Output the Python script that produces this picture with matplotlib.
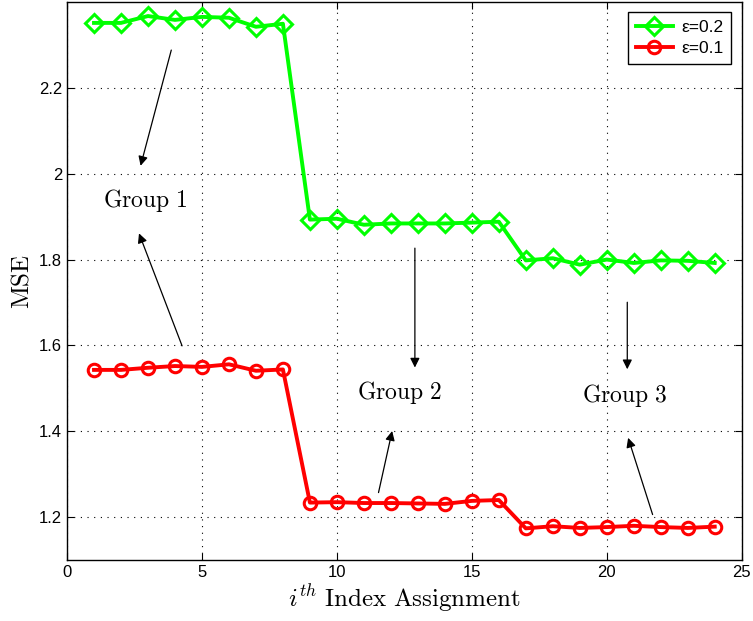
import matplotlib
matplotlib.use("Agg")
import matplotlib.pyplot as plt

plt.rcParams['mathtext.fontset'] = 'cm'
plt.rcParams['font.family'] = ['Liberation Sans', 'DejaVu Sans']

# data
idx = list(range(1, 25))
mse_02 = [2.351, 2.351, 2.367, 2.358, 2.365, 2.363, 2.342, 2.349,
          1.893, 1.895, 1.881, 1.884, 1.884, 1.884, 1.886, 1.888,
          1.798, 1.803, 1.788, 1.800, 1.792, 1.798, 1.797, 1.792]
mse_01 = [1.543, 1.543, 1.548, 1.552, 1.550, 1.556, 1.541, 1.544,
          1.234, 1.235, 1.233, 1.233, 1.232, 1.231, 1.238, 1.240,
          1.174, 1.179, 1.175, 1.177, 1.180, 1.177, 1.175, 1.178]
x_ticks = [0, 5, 10, 15, 20, 25]
y_ticks = [1.2, 1.4, 1.6, 1.8, 2.0, 2.2]
y_tick_labels = ['1.2', '1.4', '1.6', '1.8', '2', '2.2']

fig = plt.figure(figsize=(7.53, 6.21), dpi=100)
ax = fig.add_axes([0.089, 0.098, 0.896, 0.899])

ax.plot(idx, mse_02, color=(0, 1, 0), lw=2.8, marker='D', ms=9,
        mfc='none', mec=(0, 1, 0), mew=2.2, label='ε=0.2')
ax.plot(idx, mse_01, color=(1, 0, 0), lw=2.8, marker='o', ms=9,
        mfc='none', mec=(1, 0, 0), mew=2.2, label='ε=0.1')

ax.set_xlim(0, 25)
ax.set_ylim(1.1, 2.4)
ax.set_xticks(x_ticks)
ax.set_yticks(y_ticks)
ax.set_yticklabels(y_tick_labels)
ax.tick_params(direction='in', top=True, right=True, labelsize=12, length=5)
ax.grid(True, linestyle=(0, (1, 5)), color='black', lw=0.8)
for s in ax.spines.values():
    s.set_linewidth(1.0)

ax.set_xlabel(r'$i^{th}\ \mathrm{Index\ Assignment}$', fontsize=18, labelpad=2)
ax.set_ylabel(r'$\mathrm{MSE}$', fontsize=18, labelpad=4)

# group annotations
arr = dict(arrowstyle='-|>', color='black', lw=0.9, mutation_scale=14)
ax.text(2.9, 1.937, r'$\mathrm{Group\ 1}$', fontsize=17, ha='center', va='center')
ax.annotate('', xy=(2.70, 2.012), xytext=(3.89, 2.294), arrowprops=arr)
ax.annotate('', xy=(2.63, 1.867), xytext=(4.30, 1.593), arrowprops=arr)

ax.text(12.33, 1.491, r'$\mathrm{Group\ 2}$', fontsize=17, ha='center', va='center')
ax.annotate('', xy=(12.89, 1.542), xytext=(12.89, 1.833), arrowprops=arr)
ax.annotate('', xy=(12.07, 1.407), xytext=(11.52, 1.251), arrowprops=arr)

ax.text(20.67, 1.484, r'$\mathrm{Group\ 3}$', fontsize=17, ha='center', va='center')
ax.annotate('', xy=(20.76, 1.538), xytext=(20.76, 1.707), arrowprops=arr)
ax.annotate('', xy=(20.76, 1.391), xytext=(21.73, 1.200), arrowprops=arr)

leg = ax.legend(loc='upper right', fontsize=12.5, fancybox=False, edgecolor='black',
                framealpha=1, handlelength=2.1, handletextpad=0.5, borderpad=0.45,
                labelspacing=0.35, borderaxespad=0.6)
leg.get_frame().set_linewidth(1.0)

fig.savefig('out.png', dpi=100)
